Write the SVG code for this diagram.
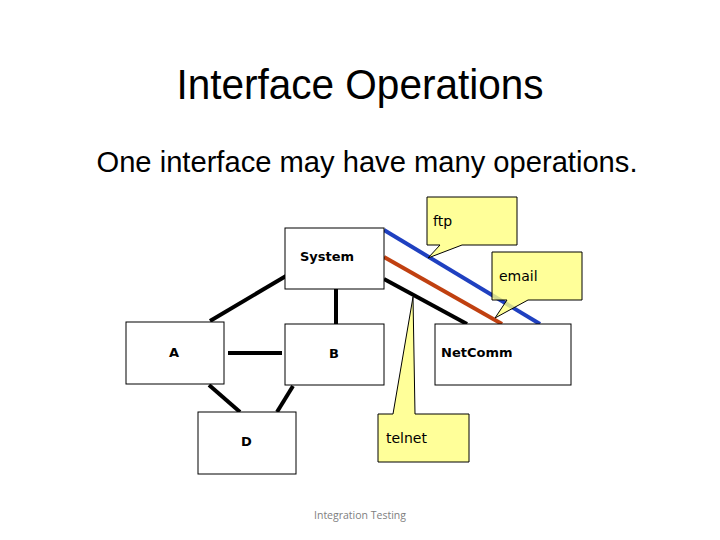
<svg xmlns="http://www.w3.org/2000/svg" width="720" height="540" viewBox="0 0 720 540">
<style>
.box{fill:#fff;stroke:#000;stroke-width:1}
.lbl{font-family:"DejaVu Sans",Verdana,sans-serif;font-size:13px;font-weight:bold;fill:#000}
.co{fill:#ffff80;fill-opacity:0.8;stroke:#000;stroke-width:1;stroke-linejoin:miter}
.cot{font-family:"DejaVu Sans",Verdana,sans-serif;font-size:14px;fill:#000}
.conn{stroke:#000;stroke-width:4;fill:none}
</style>
<rect width="720" height="540" fill="#fff"/>
<text x="360" y="99" text-anchor="middle" font-family="'Liberation Sans',Arial,sans-serif" font-size="42" textLength="367" lengthAdjust="spacingAndGlyphs">Interface Operations</text>
<text x="367" y="172" text-anchor="middle" font-family="'Liberation Sans',Arial,sans-serif" font-size="29" textLength="541" lengthAdjust="spacingAndGlyphs">One interface may have many operations.</text>
<g id="connectors">
<line class="conn" x1="210" y1="321" x2="286" y2="276"/>
<line class="conn" x1="336" y1="289" x2="336" y2="324"/>
<line class="conn" x1="228" y1="353" x2="282" y2="353"/>
<line class="conn" x1="209" y1="385" x2="240" y2="412"/>
<line class="conn" x1="293" y1="386" x2="277" y2="412"/>
<line class="conn" x1="384" y1="279" x2="467" y2="324"/>
<line stroke="#c04010" stroke-width="4" x1="384" y1="257" x2="502" y2="324"/>
<line stroke="#1f40c0" stroke-width="4" x1="384" y1="230" x2="540" y2="324"/>
</g>
<g id="System"><rect class="box" x="285" y="228" width="99" height="61"/><text class="lbl" x="300" y="261">System</text></g>
<g id="A"><rect class="box" x="126" y="322" width="98" height="62"/><text class="lbl" x="169" y="357">A</text></g>
<g id="B"><rect class="box" x="285" y="324" width="99" height="61"/><text class="lbl" x="329" y="358">B</text></g>
<g id="NetComm"><rect class="box" x="435" y="324" width="136" height="61"/><text class="lbl" x="441" y="357">NetComm</text></g>
<g id="D"><rect class="box" x="198" y="412" width="98" height="62"/><text class="lbl" x="241" y="446">D</text></g>
<g id="ftp"><path class="co" d="M427,197 H517 V245 H462 L428,258 L440,245 H427 Z"/><text class="cot" x="433" y="226">ftp</text></g>
<g id="email"><path class="co" d="M492,252 H582 V300 H528 L495,318 L507,300 H492 Z"/><text class="cot" x="499" y="281">email</text></g>
<g id="telnet"><path class="co" d="M378,414 H393 L413,297 L415,414 H469 V462 H378 Z"/><text class="cot" x="386" y="443">telnet</text></g>
<text x="360" y="519" text-anchor="middle" font-family="'Open Sans','Liberation Sans',sans-serif" font-size="11" fill="#808080" textLength="92" lengthAdjust="spacingAndGlyphs">Integration Testing</text>
</svg>
